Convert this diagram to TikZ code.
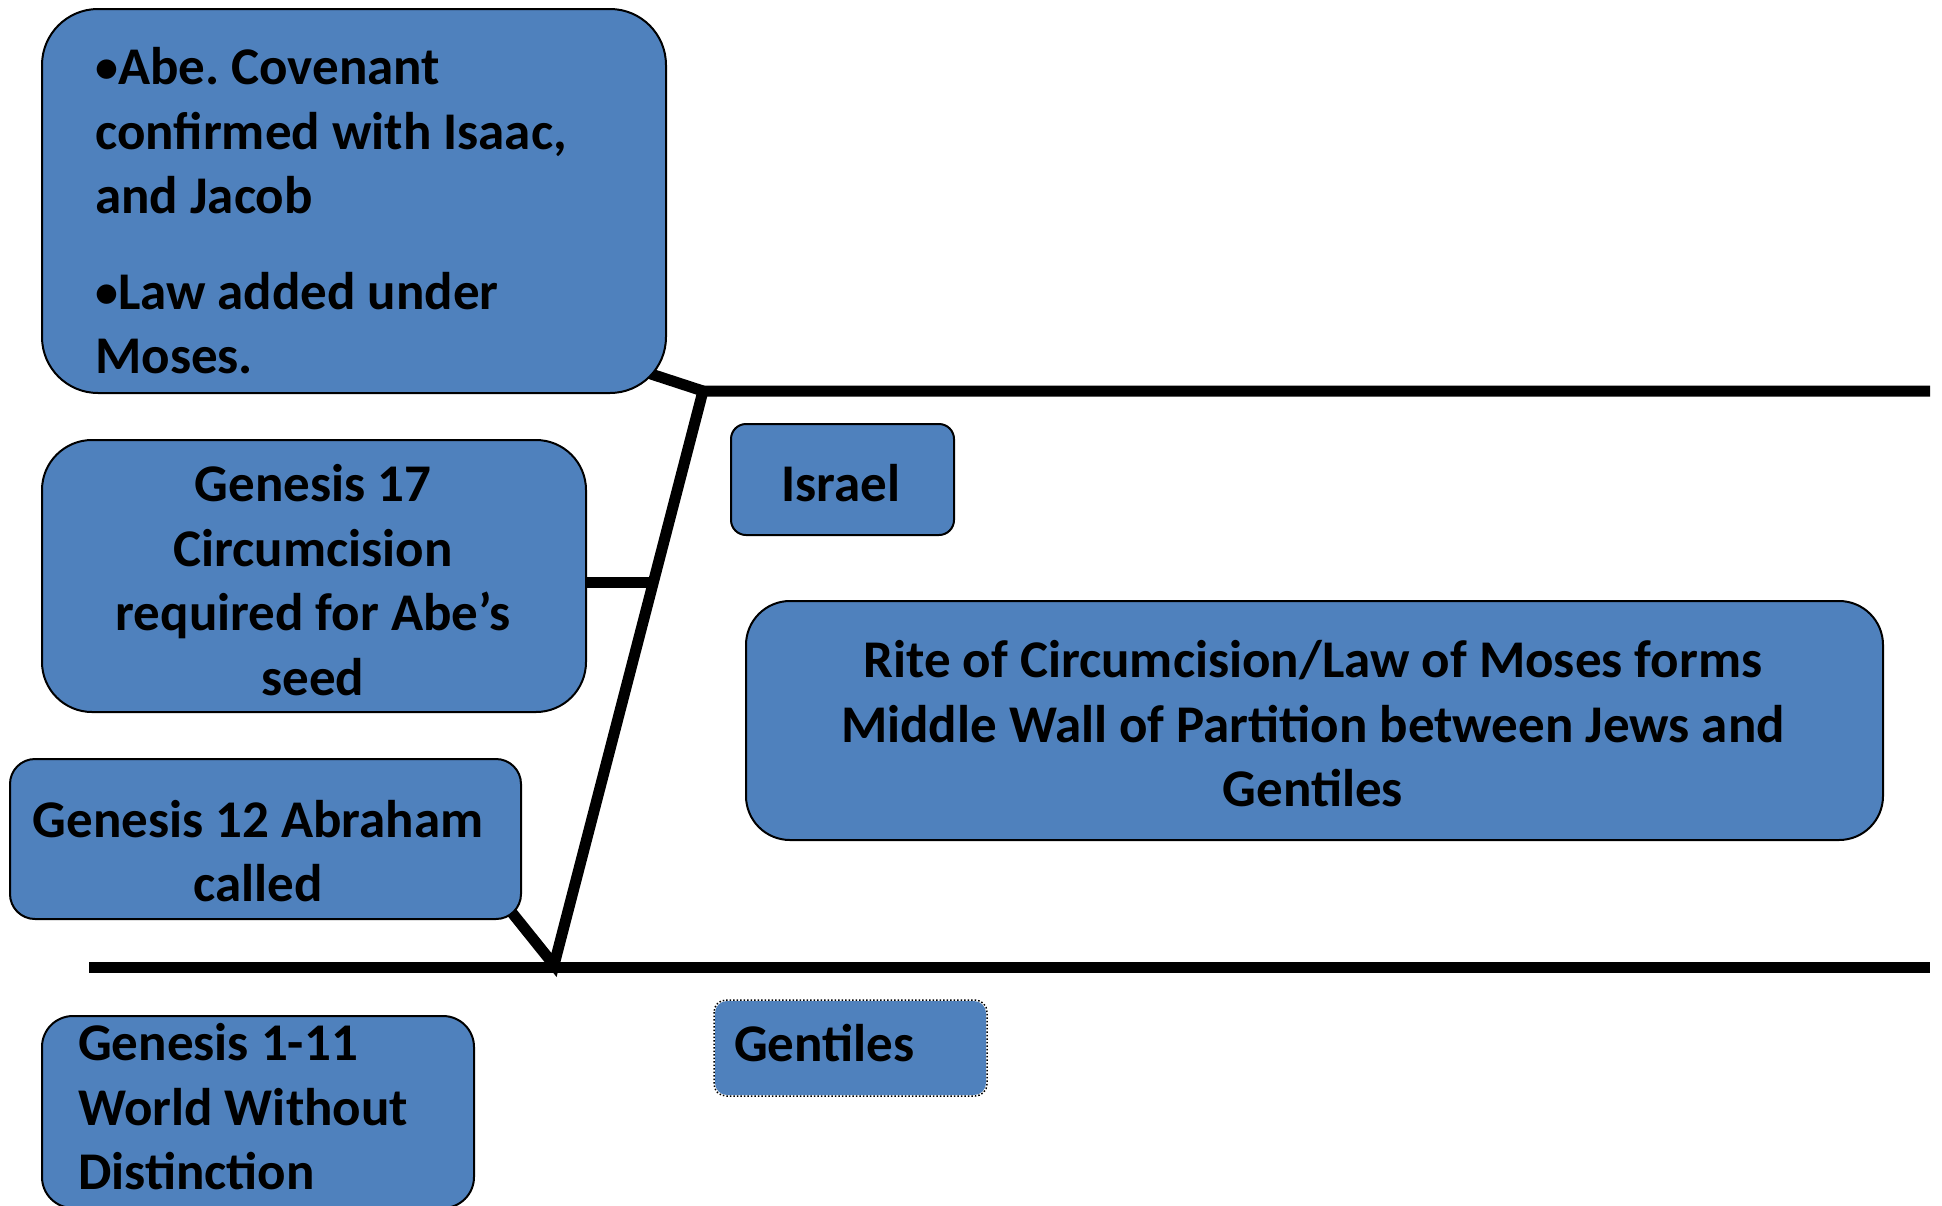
\documentclass[tikz,border=0pt]{standalone}
\usepackage{fontspec}
\setmainfont{Carlito}
\frenchspacing
\usetikzlibrary{calc,backgrounds}
\definecolor{boxblue}{HTML}{4F81BD}
\tikzset{
  boxbase/.style={draw=black, line width=2pt, fill=boxblue, inner sep=0pt},
  txt/.style={font=\bfseries\fontsize{53}{64.5}\selectfont, inner sep=0pt},
  ctxt/.style={txt, align=center},
  ltxt/.style={txt, align=flush left, anchor=west},
  wall/.style={line width=11pt, black},
}
\newcommand{\bul}{{\fontsize{46}{46}\selectfont\raisebox{2pt}{\textbullet}}}
\begin{document}
\begin{tikzpicture}[x=1pt,y=-1pt]
\useasboundingbox (0,0) rectangle (1942,1205);
% boxes
\node[boxbase, rounded corners=56pt, minimum width=624pt, minimum height=384pt] (top) at (354,201) {};
\node[boxbase, rounded corners=50pt, minimum width=544pt, minimum height=272pt] (g17) at (314,576) {};
\node[boxbase, rounded corners=25pt, minimum width=511pt, minimum height=160pt] (g12) at (265.5,839) {};
\node[boxbase, rounded corners=31pt, minimum width=432pt, minimum height=192pt] (g111) at (258,1112) {};
\node[boxbase, rounded corners=15pt, minimum width=223pt, minimum height=111pt] (israel) at (842.5,479.5) {};
\node[boxbase, rounded corners=44pt, minimum width=1137pt, minimum height=239pt] (rite) at (1314.5,720.5) {};
\node[boxbase, draw=none, rounded corners=12pt, minimum width=271pt, minimum height=94pt] (gent) at (850.5,1048) {};
\draw[line width=1.5pt, dotted, rounded corners=12pt] (gent.north west) rectangle (gent.south east);
% texts
\node[ltxt] (topt) at (95,211)
  {\bul Abe. Covenant\\confirmed with Isaac,\\and Jacob\\[31pt]\bul Law added under\\Moses.};
\node[ctxt] (g17t) at (313,580) {Genesis 17\\Circumcision\\required for Abe’s\\seed};
\node[ctxt] (g12t) at (258,851) {Genesis 12 Abraham\\called};
\node[ltxt] (g111t) at (78,1107) {Genesis 1-11\\World Without\\Distinction};
\node[ctxt] (israelt) at (841,483) {Israel};
\node[ctxt] (ritet) at (1313,724)
  {Rite of Circumcision/Law of Moses forms\\Middle Wall of Partition between Jews and\\Gentiles};
\node[ltxt] (gentt) at (734,1043) {Gentiles};
% wall lines
\coordinate (jt) at (703,391);
\coordinate (jb) at (554,965);
\coordinate (topend) at (1930,391);
\coordinate (botstart) at (89,967);
\coordinate (botend) at (1930,967);
\coordinate (jm) at ($(jt)!0.334!(jb)$);
\begin{scope}[on background layer]
\draw[wall] ($(jt)!1.4!(651,374)$) -- (jt);
\draw[wall, line join=miter] ($(jb)!1.4!(505,904)$) -- (jb) -- (jt) -- (topend);
\draw[wall] (g17.center |- jm) -- (jm);
\end{scope}
\draw[wall] (botstart) -- (botend);
\end{tikzpicture}
\end{document}
